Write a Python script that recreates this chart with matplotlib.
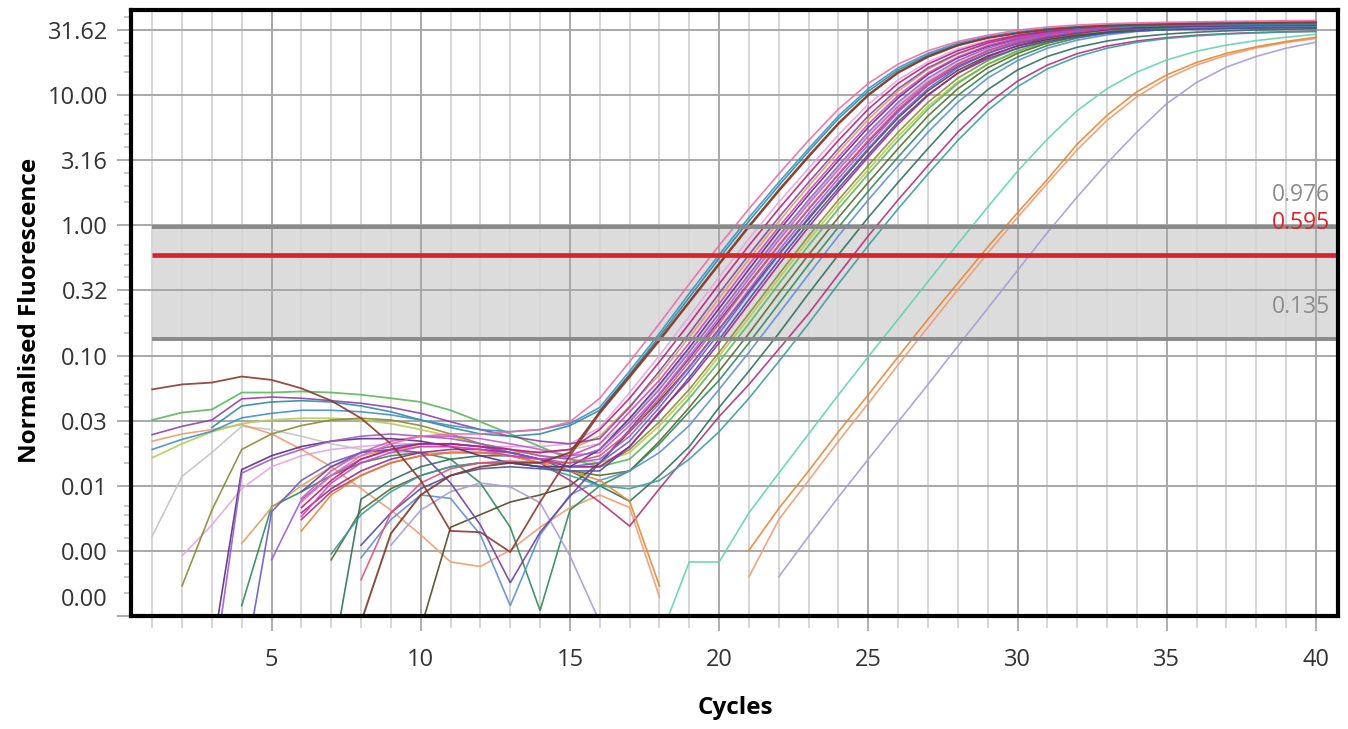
import numpy as np
import matplotlib
matplotlib.use("Agg")
import matplotlib.pyplot as plt

plt.rcParams['font.family'] = ['Open Sans', 'DejaVu Sans']

nan = np.nan
cycles = list(range(1, 41))

# Normalised fluorescence per sample, cycles 1..40 (nan = not plotted)
pink_a = [nan, nan, nan, nan, nan, 0.0075, 0.012, 0.017, 0.021, 0.024,
          0.025, 0.025, 0.026, 0.027, 0.031, 0.047, 0.0896, 0.176, 0.355, 0.70,
          1.34, 2.48, 4.49, 7.81, 12.3, 17.3, 21.9, 25.8, 28.8, 31.5,
          33.3, 34.5, 35.3, 35.8, 36.2, 36.5, 36.8, 37.0, 37.2, 37.4]
steel_blue = [0.019, 0.0227, 0.0262, 0.0332, 0.036, 0.038, 0.038, 0.037, 0.035, 0.032,
              0.029, 0.027, 0.026, 0.027, 0.030, 0.040, 0.076, 0.148, 0.30, 0.595,
              1.15, 2.14, 3.89, 6.92, 11.2, 16.2, 20.9, 25.1, 28.2, 30.5,
              32.4, 33.5, 34.3, 34.7, 35.1, 35.5, 35.7, 35.9, 36.0, 36.1]
maroon = [0.055, 0.060, 0.062, 0.069, 0.065, 0.056, 0.045, 0.033, 0.021, 0.011,
          0.0045, 0.0044, 0.0031, 0.0075, 0.017, 0.036, 0.068, 0.13, 0.255, 0.50,
          0.97, 1.83, 3.35, 5.99, 9.94, 14.8, 19.6, 24.0, 27.4, 29.9,
          31.9, 33.2, 34.1, 34.6, 35.0, 35.4, 35.6, 35.8, 36.0, 36.1]
sienna = [nan, nan, nan, nan, nan, nan, nan, 0.0009, 0.0043, 0.0085,
          0.012, 0.014, 0.015, 0.015, 0.018, 0.037, 0.070, 0.133, 0.26, 0.51,
          0.99, 1.87, 3.42, 6.1, 10.1, 15.0, 19.8, 24.2, 27.6, 30.1,
          32.1, 33.4, 34.3, 34.8, 35.2, 35.6, 35.8, 36.0, 36.2, 36.3]
teal_blue = [nan, nan, 0.028, 0.041, 0.044, 0.045, 0.044, 0.041, 0.037, 0.032,
             0.028, 0.025, 0.024, 0.025, 0.029, 0.038, 0.072, 0.140, 0.28, 0.56,
             1.08, 2.02, 3.70, 6.6, 10.7, 15.6, 20.3, 24.5, 27.6, 29.9,
             31.6, 32.7, 33.4, 33.8, 34.1, 34.3, 34.5, 34.6, 34.7, 34.8]
violet_red = [nan, nan, nan, nan, nan, 0.0068, 0.011, 0.016, 0.019, 0.021,
              0.021, 0.020, 0.019, 0.018, 0.019, 0.027, 0.047, 0.0896, 0.176, 0.355,
              0.70, 1.34, 2.48, 4.49, 7.81, 12.3, 17.3, 21.9, 25.8, 28.8,
              31.0, 32.7, 33.7, 34.4, 34.8, 35.2, 35.4, 35.6, 35.8, 36.0]
purple = [0.0247, 0.0286, 0.032, 0.0465, 0.048, 0.047, 0.045, 0.043, 0.040, 0.036,
          0.031, 0.027, 0.024, 0.022, 0.021, 0.023, 0.040, 0.076, 0.148, 0.30,
          0.595, 1.15, 2.14, 3.89, 6.92, 11.2, 16.2, 20.9, 25.1, 28.2,
          30.5, 32.4, 33.5, 34.3, 34.7, 35.1, 35.4, 35.6, 35.8, 35.9]
magenta = [nan, nan, nan, nan, nan, 0.0058, 0.0105, 0.015, 0.018, 0.020,
           0.020, 0.019, 0.017, 0.016, 0.017, 0.021, 0.037, 0.0646, 0.125, 0.25,
           0.50, 0.97, 1.83, 3.35, 5.99, 9.94, 14.8, 19.6, 24.0, 27.4,
           29.9, 31.9, 33.2, 34.1, 34.6, 35.0, 35.4, 35.6, 35.8, 36.0]
violet = [nan, nan, 0.0003, 0.0125, 0.016, 0.019, 0.022, 0.024, 0.025, 0.024,
          0.023, 0.021, 0.019, 0.017, 0.016, 0.019, 0.031, 0.055, 0.106, 0.21,
          0.42, 0.83, 1.57, 2.88, 5.19, 8.81, 13.5, 18.4, 22.9, 26.6,
          29.4, 31.5, 33.0, 33.9, 34.5, 34.9, 35.3, 35.5, 35.7, 35.8]
rose = [nan, nan, nan, nan, nan, nan, nan, 0.0019, 0.0062, 0.0105,
        0.0135, 0.015, 0.0155, 0.015, 0.015, 0.017, 0.026, 0.047, 0.0896, 0.176,
        0.355, 0.70, 1.34, 2.48, 4.49, 7.81, 12.3, 17.3, 21.9, 25.8,
        28.8, 31.0, 32.7, 33.7, 34.4, 34.8, 35.2, 35.4, 35.6, 35.7]
dark_purple = [nan, nan, 0.0005, 0.0133, 0.017, 0.020, 0.022, 0.023, 0.023, 0.022,
               0.020, 0.017, 0.015, 0.014, 0.014, 0.019, 0.033, 0.060, 0.115, 0.23,
               0.46, 0.91, 1.72, 3.15, 5.65, 9.5, 14.4, 19.3, 23.6, 27.0,
               29.6, 31.3, 32.5, 33.2, 33.6, 33.9, 34.1, 34.2, 34.3, 34.4]
blue_violet = [nan, nan, nan, 0.0003, 0.0063, 0.011, 0.015, 0.018, 0.020, 0.021,
               0.021, 0.020, 0.018, 0.016, 0.014, 0.015, 0.022, 0.040, 0.076, 0.148,
               0.30, 0.595, 1.15, 2.14, 3.89, 6.92, 11.2, 16.2, 20.9, 25.1,
               28.2, 30.5, 32.4, 33.5, 34.3, 34.7, 35.1, 35.4, 35.6, 35.7]
orchid = [nan, nan, nan, nan, nan, 0.0080, 0.013, 0.018, 0.022, 0.024,
          0.024, 0.023, 0.021, 0.019, 0.017, 0.018, 0.029, 0.051, 0.099, 0.195,
          0.39, 0.77, 1.46, 2.68, 4.83, 8.2, 12.6, 17.3, 21.8, 25.6,
          28.6, 30.8, 32.4, 33.4, 34.0, 34.4, 34.7, 34.9, 35.1, 35.2]
dark_magenta = [nan, nan, nan, nan, nan, 0.0062, 0.0095, 0.013, 0.016, 0.018,
                0.019, 0.019, 0.018, 0.016, 0.014, 0.014, 0.020, 0.037, 0.0646, 0.125,
                0.25, 0.50, 0.97, 1.83, 3.35, 5.99, 9.94, 14.8, 19.6, 24.0,
                27.4, 29.9, 31.9, 33.2, 34.1, 34.6, 35.0, 35.3, 35.5, 35.6]
ochre = [nan, nan, nan, 0.0036, 0.0068, 0.010, 0.014, 0.017, 0.019, 0.020,
         0.020, 0.019, 0.018, 0.018, 0.019, 0.024, 0.041, 0.071, 0.138, 0.275,
         0.55, 1.07, 2.0, 3.65, 6.5, 10.7, 15.8, 20.6, 24.8, 28.0,
         30.3, 32.0, 33.1, 33.8, 34.2, 34.5, 34.7, 34.9, 35.0, 35.1]
indigo = [nan, nan, nan, nan, nan, nan, nan, 0.0035, 0.0062, 0.0095,
          0.012, 0.0135, 0.014, 0.0135, 0.013, 0.013, 0.020, 0.036, 0.068, 0.133,
          0.27, 0.54, 1.04, 1.93, 3.5, 6.25, 10.1, 14.7, 19.0, 22.9,
          25.9, 28.1, 29.9, 31.0, 31.8, 32.3, 32.6, 32.8, 33.0, 33.1]
light_purple = [nan, nan, nan, nan, 0.0027, 0.0078, 0.012, 0.016, 0.019, 0.021,
                0.021, 0.020, 0.018, 0.016, 0.015, 0.016, 0.024, 0.043, 0.081, 0.158,
                0.32, 0.64, 1.23, 2.29, 4.16, 7.4, 11.9, 17.1, 21.9, 26.0,
                29.0, 31.2, 32.9, 33.9, 34.6, 35.0, 35.3, 35.5, 35.7, 35.8]
plum = [nan, nan, nan, nan, nan, 0.0090, 0.014, 0.018, 0.019, 0.018,
        0.0105, 0.0050, 0.0018, 0.0044, 0.0083, 0.015, 0.027, 0.050, 0.095, 0.185,
        0.36, 0.70, 1.33, 2.45, 4.4, 7.6, 11.9, 16.6, 21.0, 24.8,
        27.8, 30.0, 31.6, 32.7, 33.4, 33.9, 34.2, 34.4, 34.6, 34.7]
olive = [nan, 0.0017, 0.0065, 0.019, 0.025, 0.029, 0.032, 0.033, 0.032, 0.029,
         0.025, 0.021, 0.018, 0.016, 0.014, 0.014, 0.019, 0.031, 0.055, 0.106,
         0.21, 0.42, 0.83, 1.57, 2.88, 5.19, 8.81, 13.5, 18.4, 22.9,
         26.6, 29.4, 31.5, 33.0, 33.9, 34.5, 34.9, 35.2, 35.4, 35.5]
green = [0.032, 0.0365, 0.0385, 0.052, 0.052, 0.053, 0.052, 0.050, 0.047, 0.044,
         0.038, 0.031, 0.025, 0.020, 0.016, 0.014, 0.016, 0.026, 0.047, 0.0896,
         0.176, 0.355, 0.70, 1.34, 2.48, 4.49, 7.81, 12.3, 17.3, 21.9,
         25.8, 28.8, 31.0, 32.7, 33.7, 34.4, 34.8, 35.1, 35.3, 35.4]
olive_drab = [nan, nan, nan, nan, nan, nan, 0.0027, 0.0065, 0.0095, 0.012,
              0.014, 0.015, 0.015, 0.014, 0.013, 0.012, 0.013, 0.022, 0.040, 0.076,
              0.148, 0.30, 0.595, 1.15, 2.14, 3.89, 6.92, 11.2, 16.2, 20.9,
              25.1, 28.2, 30.5, 32.0, 33.0, 33.6, 34.0, 34.2, 34.4, 34.5]
yellow_green = [0.0164, 0.021, 0.026, 0.030, 0.032, 0.033, 0.033, 0.032, 0.030, 0.027,
                0.024, 0.021, 0.019, 0.017, 0.016, 0.015, 0.018, 0.029, 0.051, 0.099,
                0.195, 0.39, 0.77, 1.46, 2.68, 4.83, 8.2, 12.6, 17.2, 21.5,
                25.1, 27.9, 30.0, 31.5, 32.4, 33.0, 33.4, 33.6, 33.8, 33.9]
sea_green = [nan, nan, nan, 0.0012, 0.0069, 0.009, 0.012, 0.015, 0.017, 0.018,
             0.016, 0.0105, 0.0048, 0.0011, 0.0065, 0.010, 0.013, 0.021, 0.037, 0.0646,
             0.125, 0.25, 0.50, 0.97, 1.83, 3.35, 5.99, 9.94, 14.8, 19.6,
             24.0, 27.4, 29.9, 31.6, 32.7, 33.4, 33.8, 34.1, 34.3, 34.4]
light_blue = [nan, nan, nan, nan, nan, nan, nan, 0.0028, 0.0055, 0.0085,
              0.0080, 0.0042, 0.0012, 0.0042, 0.0085, 0.011, 0.013, 0.018, 0.029, 0.055,
              0.106, 0.21, 0.42, 0.83, 1.57, 2.88, 5.19, 8.81, 13.5, 18.4,
              22.9, 26.4, 29.0, 30.8, 32.0, 32.8, 33.3, 33.6, 33.8, 34.0]
slate_green = [nan, nan, nan, nan, nan, nan, 0.0004, 0.0079, 0.011, 0.014,
               0.016, 0.017, 0.017, 0.016, 0.013, 0.010, 0.0076, 0.012, 0.020, 0.040,
               0.076, 0.148, 0.30, 0.595, 1.15, 2.14, 3.89, 6.92, 11.0, 15.6,
               19.8, 23.3, 26.0, 28.0, 29.4, 30.4, 31.1, 31.6, 32.0, 32.3]
berry = [nan, nan, nan, nan, nan, 0.0055, 0.0090, 0.012, 0.015, 0.017,
         0.018, 0.018, 0.017, 0.015, 0.011, 0.0075, 0.0049, 0.0095, 0.018, 0.034,
         0.060, 0.112, 0.21, 0.42, 0.83, 1.57, 2.88, 5.19, 8.6, 12.8,
         17.0, 20.8, 23.8, 26.0, 27.6, 28.8, 29.6, 30.2, 30.6, 30.9]
teal = [nan, nan, nan, nan, nan, nan, 0.0030, 0.0060, 0.0090, 0.012,
        0.014, 0.015, 0.015, 0.014, 0.012, 0.010, 0.0095, 0.011, 0.016, 0.026,
        0.047, 0.090, 0.176, 0.355, 0.70, 1.34, 2.48, 4.49, 7.6, 11.6,
        15.9, 19.7, 22.9, 25.4, 27.2, 28.5, 29.4, 30.0, 30.5, 30.8]
aquamarine = [nan, nan, nan, nan, nan, nan, nan, nan, nan, nan,
              nan, nan, nan, nan, nan, nan, nan, 0.00066, 0.0026, 0.0026,
              0.0062, 0.0125, 0.025, 0.050, 0.098, 0.19, 0.37, 0.72, 1.38, 2.6,
              4.6, 7.6, 11.2, 15.0, 18.6, 21.7, 24.2, 26.2, 27.8, 29.3]
orange = [nan, nan, nan, nan, nan, 0.0045, 0.0085, 0.012, 0.015, 0.017,
          0.018, 0.018, 0.017, 0.015, 0.013, 0.011, 0.0076, 0.0017, nan, nan,
          0.0032, 0.0067, 0.013, 0.026, 0.050, 0.098, 0.19, 0.36, 0.68, 1.25,
          2.25, 4.2, 7.0, 10.6, 14.3, 17.8, 20.9, 23.5, 25.8, 27.8]
salmon = [0.022, 0.025, 0.027, 0.0295, 0.025, 0.019, 0.014, 0.0095, 0.0065, 0.0042,
          0.0026, 0.0024, 0.0032, 0.0048, 0.0068, 0.0085, 0.0068, 0.0014, nan, nan,
          0.0020, 0.0055, 0.011, 0.022, 0.043, 0.085, 0.165, 0.32, 0.61, 1.15,
          2.1, 3.8, 6.4, 9.7, 13.4, 17.0, 20.2, 23.0, 25.3, 27.2]
lavender = [nan, nan, nan, nan, nan, nan, nan, nan, 0.0035, 0.0065,
            0.0090, 0.0105, 0.0098, 0.0074, 0.0029, 0.0009, nan, nan, nan, nan,
            nan, 0.0020, 0.0041, 0.0082, 0.016, 0.031, 0.060, 0.118, 0.23, 0.45,
            0.88, 1.65, 3.0, 5.2, 8.6, 12.5, 16.4, 19.8, 22.9, 25.5]
silver = [0.0041, 0.0118, 0.018, 0.0286, 0.027, 0.024, 0.021, 0.019, 0.018, 0.018,
          0.018, 0.018, 0.018, 0.018, 0.019, 0.021, 0.032, 0.058, 0.11, 0.21,
          0.41, 0.80, 1.52, 2.8, 5.0, 8.5, 13.0, 17.8, 22.2, 25.8,
          28.5, 30.5, 31.9, 32.8, 33.4, 33.8, 34.1, 34.3, 34.5, 34.6]
lilac = [nan, 0.0029, 0.0050, 0.0095, 0.014, 0.017, 0.019, 0.020, 0.021, 0.021,
         0.021, 0.020, 0.020, 0.020, 0.021, 0.028, 0.052, 0.10, 0.20, 0.40,
         0.79, 1.50, 2.75, 4.95, 8.5, 13.1, 18.0, 22.6, 26.4, 29.3,
         31.4, 32.9, 33.9, 34.6, 35.0, 35.4, 35.7, 35.9, 36.1, 36.2]
dark_olive = [nan, nan, nan, nan, nan, nan, nan, nan, nan, 0.0008,
              0.0048, 0.0060, 0.0075, 0.0085, 0.010, 0.015, 0.026, 0.045, 0.082, 0.16,
              0.31, 0.60, 1.12, 2.08, 3.8, 6.7, 10.8, 15.5, 20.0, 23.8,
              26.7, 28.8, 30.2, 31.2, 31.8, 32.2, 32.5, 32.7, 32.9, 33.0]

# (series, colour, line width)
samples = [
    (silver, '#c4c4c4', 1.2), (lilac, '#e3a6e3', 1.2), (salmon, '#f29a6e', 1.2),
    (yellow_green, '#b7cc55', 1.3), (olive, '#8a8a34', 1.2), (green, '#5cb85c', 1.3),
    (olive_drab, '#556b2f', 1.2), (sea_green, '#2e8b57', 1.2), (dark_olive, '#4d4a22', 1.2),
    (light_blue, '#5b8fd6', 1.2), (slate_green, '#2f6f5f', 1.2), (berry, '#b0307f', 1.2),
    (teal, '#3a9e9e', 1.2), (aquamarine, '#5fd4b2', 1.2), (orange, '#e8862f', 1.2),
    (lavender, '#a89bd6', 1.2), (indigo, '#4a4fb0', 1.2), (ochre, '#d4a35a', 1.2),
    (plum, '#7040a0', 1.2), (light_purple, '#a05ad8', 1.2), (dark_magenta, '#a8237f', 1.2),
    (orchid, '#c45ec4', 1.2), (blue_violet, '#6a5acd', 1.2), (dark_purple, '#5e2a84', 1.2),
    (rose, '#e0507a', 1.2), (violet, '#9a5cc8', 1.2), (magenta, '#d63fbf', 1.2),
    (purple, '#8e3fa8', 1.2), (violet_red, '#c2187a', 1.2), (teal_blue, '#2b8c9e', 1.2),
    (sienna, '#7e3a2c', 1.4), (steel_blue, '#3f8fc4', 1.2), (maroon, '#8b3a2e', 1.3),
    (pink_a, '#ee6aa7', 1.2),
]

threshold = 0.595
band_low = 0.135
band_high = 0.976

y_ticks = [31.623, 10.0, 3.1623, 1.0, 0.31623, 0.1, 0.031623, 0.01, 0.0031623, 0.001]
y_tick_labels = ['31.62', '10.00', '3.16', '1.00', '0.32', '0.10', '0.03', '0.01', '0.00', '']
x_ticks = [5, 10, 15, 20, 25, 30, 35, 40]
x_tick_labels = ['5', '10', '15', '20', '25', '30', '35', '40']

W, H = 1348, 729
fig = plt.figure(figsize=(W / 100, H / 100), dpi=100, facecolor='white')
ax = fig.add_axes([131 / W, (H - 616) / H, (1338 - 131) / W, (616 - 10) / H])

ax.set_yscale('log')
x_lo, x_hi = 0.29, 40.74
ax.set_xlim(x_lo, x_hi)
ax.set_ylim(0.001, 45.0)

# threshold band and bounds
ax.fill_between([1, x_hi], band_low, band_high, color='#dcdcdc', lw=0, zorder=0.3)
ax.hlines([band_low, band_high], 1, x_hi, color='#8a8a8a', lw=2.8, zorder=2.5)
ax.hlines(threshold, 1, x_hi, color='#d9252a', lw=3.4, zorder=3)

for series, colour, lw in samples:
    ax.plot(cycles, series, color=colour, lw=lw, alpha=0.9, zorder=2,
            solid_joinstyle='miter')

# ticks
ax.set_xticks(x_ticks, x_tick_labels)
ax.set_xticks(cycles, minor=True)
ax.set_yticks(y_ticks, y_tick_labels)
minor_y = []
for d in [-3, -2, -1, 0, 1]:
    for s in [1.5, 2, 2.5, 4, 5, 6, 7]:
        v = s * 10.0 ** d
        if 0.001 < v < 45:
            minor_y.append(v)
ax.set_yticks(minor_y, minor=True)
ax.yaxis.set_minor_formatter(plt.NullFormatter())

ax.tick_params(axis='x', which='major', length=11, width=1.3, color='#a8a8a8',
               labelsize=17, labelcolor='#333333', pad=12)
ax.tick_params(axis='x', which='minor', length=8.6, width=1.3, color='#d2d2d2')
ax.tick_params(axis='y', which='major', length=10, width=1.3, color='#a8a8a8',
               labelsize=17, labelcolor='#333333', pad=6.5)
ax.tick_params(axis='y', which='minor', length=5, width=1.1, color='#b8b8b8')

ax.set_axisbelow(True)
ax.grid(which='minor', axis='x', color='#d6d6d6', lw=1.4)
ax.grid(which='major', axis='x', color='#a8a8a8', lw=1.4)
ax.grid(which='major', axis='y', color='#a8a8a8', lw=1.4)

for s in ax.spines.values():
    s.set_linewidth(3)
    s.set_color('black')
    s.set_zorder(5)

# bottom-most axis label sits just above its tick
ax.annotate('0.00', xy=(0, 0.001), xycoords=('axes fraction', 'data'),
            xytext=(-23, 16), textcoords='offset pixels', ha='right', va='center',
            fontsize=17, color='#333333', annotation_clip=False)

# threshold values
for val, txt, col in [(band_high, '0.976', '#8c8c8c'), (threshold, '0.595', '#d9252a'),
                      (band_low, '0.135', '#8c8c8c')]:
    ax.annotate(txt, xy=(1, val), xycoords=('axes fraction', 'data'),
                xytext=(-8, 32), textcoords='offset pixels', ha='right', va='center',
                fontsize=16.5, color=col, zorder=4)

fig.text(30 / W, 1 - 310 / H, 'Normalised Fluorescence', rotation=90,
         ha='center', va='center', fontsize=17.5, fontweight='bold')
fig.text(735 / W, 1 - 708 / H, 'Cycles', ha='center', va='center',
         fontsize=17.5, fontweight='bold')

fig.savefig('out.png', dpi=100, facecolor='white')
